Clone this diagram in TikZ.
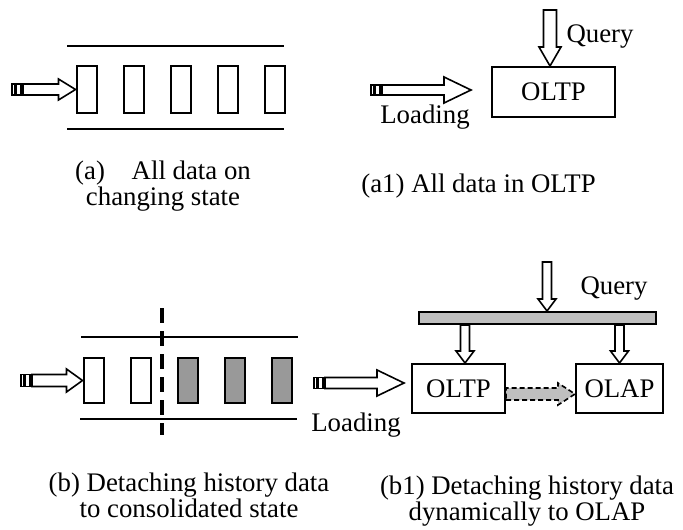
\documentclass[tikz,border=0pt]{standalone}
\usepackage{fontspec}
\setmainfont{Liberation Serif}
\usetikzlibrary{calc}

% hollow block arrow from #2 to #3: half shaft #4, half head #5, head length #6
\newcommand{\blockarrow}[6][]{%
	\draw[blk,#1] let \p1=#2, \p2=#3, \n1={atan2(\y2-\y1,\x2-\x1)}, \n2={veclen(\x2-\x1,\y2-\y1)} in
		[shift={(\p1)}, rotate=\n1]
		(0pt,-#4) -- (\n2-#6,-#4) -- (\n2-#6,-#5) -- (\n2,0pt) -- (\n2-#6,#5) -- (\n2-#6,#4) -- (0pt,#4) -- cycle;}
% the two stripes behind the tail at #1
\newcommand{\stripes}[2]{%
	\draw[blk] ([shift={(-5.5pt,-#2)}]#1) rectangle ++(1.25pt,2*#2);
	\draw[blk] ([shift={(-3.5pt,-#2)}]#1) rectangle ++(2.5pt,2*#2);}

\begin{document}
\begin{tikzpicture}[x=0.5pt, y=-0.5pt, font=\fontsize{13.4pt}{13pt}\selectfont,
		track/.style={line width=1pt},
		cell/.style={draw, line width=1pt, minimum width=10pt, minimum height=23.5pt, inner sep=0pt},
		box/.style={draw, line width=1pt, inner sep=0pt},
		blk/.style={line width=0.8pt, fill=white},
		caption/.style={align=center}]
		\begingroup
		\useasboundingbox (0,0) rectangle (683,529);
		
		% (a) all data on changing state
		\draw[track] (67,46) -- (284,46);
		\draw[track] (67,129) -- (284,129);
		\foreach \i in {0,...,4}
			\node[cell] (ca\i) at (86.5+47*\i, 89.5) {};
		\coordinate (ta) at (23,89.5);
		\stripes{ta}{2.75pt}
		\blockarrow{(ta)}{(ca0.west)}{2.75pt}{5.25pt}{8.5pt}
		\node[caption] (capa) at (163,186) {(a)\quad All data on\\changing state};
		
		% (a1) all data in OLTP
		\node[box, minimum width=61.5pt, minimum height=25pt] (oltpa) at (553.5,92) {OLTP};
		\coordinate (qa) at (550,10);
		\blockarrow{(qa)}{(qa |- oltpa.north)}{3.25pt}{5.5pt}{9.5pt}
		\node (querya) at (600,37) {Query};
		\coordinate (la) at (382,90);
		\coordinate (lb) at ([xshift=-10pt]oltpa.west);
		\stripes{la}{2.5pt}
		\blockarrow{(la)}{(la -| lb)}{2.5pt}{6.5pt}{13.5pt}
		\node (loada) at (425,117) {Loading};
		\node[caption] (capa1) at (478.5,186) {(a1) All data in OLTP};
		
		% (b) detaching history data
		\draw[track] (81,337) -- (298,337);
		\draw[track] (80,419) -- (297,419);
		\foreach \i/\f in {0/white,1/white,2/gray!80,3/gray!80,4/gray!80}
			\node[cell, fill=\f, minimum height=22.5pt] (cb\i) at (93.5+47*\i, 380.5) {};
		\draw[line width=1.6pt, dash pattern=on 7.5pt off 4pt] (162,308) -- (162,435);
		\coordinate (tb) at (32,380.5);
		\stripes{tb}{3pt}
		\blockarrow{(tb)}{(cb0.west)}{3pt}{5.75pt}{8pt}
		\node[caption] (capb) at (189,495) {(b) Detaching history data\\to consolidated state};
		
		% (b1) detaching to OLAP
		\node[box, fill=gray!50, minimum width=118.5pt, minimum height=6pt] (bar) at (537.5,318) {};
		\node[box, minimum width=46.5pt, minimum height=24.5pt] (oltpb) at (458.5,388.5) {OLTP};
		\node[box, minimum width=43.5pt, minimum height=24.5pt] (olap) at (619.5,388.5) {OLAP};
		\coordinate (qb) at (547,262);
		\blockarrow{(qb)}{(qb |- bar.north)}{2.25pt}{4.5pt}{6pt}
		\node (queryb) at (614,289) {Query};
		\coordinate (q1) at ([xshift=3.25pt]oltpb.north);
		\blockarrow{(bar.south -| q1)}{(q1)}{2.25pt}{4.5pt}{6pt}
		\blockarrow{(bar.south -| olap)}{(olap.north)}{2.25pt}{4.5pt}{6pt}
		\blockarrow[dash pattern=on 2.5pt off 1.5pt, fill=gray!50]{([yshift=-2.75pt]oltpb.east)}{([yshift=-2.75pt]olap.west)}{3pt}{5.5pt}{8.5pt}
		\coordinate (lc) at (325,383);
		\coordinate (ld) at ([xshift=-3.5pt]oltpb.west);
		\stripes{lc}{2.75pt}
		\blockarrow{(lc)}{(lc -| ld)}{2.75pt}{6.5pt}{13.5pt}
		\node (loadb) at (356,425) {Loading};
		\node[caption] (capb1) at (527,501) {(b1) Detaching history data\\dynamically to OLAP};
		\endgroup
\end{tikzpicture}
\end{document}
